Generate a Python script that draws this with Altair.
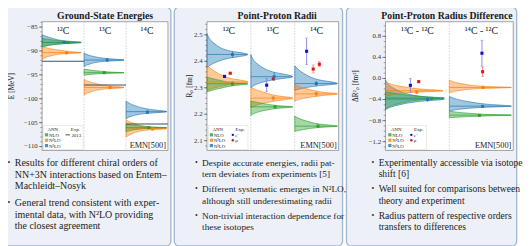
import altair as alt
import pandas as pd

SERIF = "Liberation Serif"
ORDER_NAMES = ["NLO", "N²LO", "N³LO"]
ORDER_COLORS = ["#2ca02c", "#ff7f0e", "#1f77b4"]
DRAW_ORDER = ["N³LO", "N²LO", "NLO"]
EXPLINE = "#3d4f66"
E_COL, E_ERR = "#1010d0", "#8080e6"
MU_COL, MU_ERR = "#e01515", "#f07a7a"
BOXFILL, BOXSTROKE = "#edf1f7", "#a3b8d3"

# ---------------- Ground-State Energies  E [MeV] ----------------
E_LABELS = ["¹²C", "¹³C", "¹⁴C"]
E_TICKS = [-110, -105, -100, -95, -90, -85]
E_MINOR = [-110, -109, -108, -107, -106, -105, -104, -103, -102, -101, -100, -99, -98,
           -97, -96, -95, -94, -93, -92, -91, -90, -89, -88, -87, -86, -85, -84]
E_EXP_2013 = [-92.16, -97.11, -105.28]
E_NLO = [([-87.4, -87.8, -88.1, -88.25, -88.45, -89.1], [0, 0.35, 0.7, 0.93, 0.55, 0]),
         ([-93.8, -94.2, -94.45, -94.55, -94.7, -95.1], [0, 0.35, 0.7, 0.95, 0.5, 0]),
         ([-105.3, -105.7, -105.95, -106.05, -106.2, -106.9], [0, 0.35, 0.7, 0.97, 0.5, 0])]
E_N2LO = [([-89.1, -89.7, -90.1, -90.35, -90.6, -91.1, -91.8], [0, 0.3, 0.65, 0.93, 0.5, 0.18, 0]),
          ([-95.9, -96.7, -97.3, -97.65, -98.0, -98.6, -99.2], [0, 0.22, 0.58, 0.95, 0.45, 0.15, 0]),
          ([-104.4, -105.2, -105.9, -106.25, -106.6, -107.3, -108.0], [0, 0.2, 0.55, 0.97, 0.45, 0.15, 0])]
E_N3LO = [([-86.6, -87.3, -87.9, -88.2, -88.5, -89.2], [0, 0.22, 0.55, 0.93, 0.45, 0]),
          ([-90.4, -91.1, -91.6, -91.9, -92.2, -92.7, -93.3], [0, 0.2, 0.55, 0.95, 0.45, 0.15, 0]),
          ([-100.5, -101.4, -102.2, -102.7, -103.1, -103.6, -104.2], [0, 0.2, 0.55, 0.97, 0.45, 0.15, 0])]
# ANN mean markers: (position inside sub-panel, mean, uncertainty)
E_ANN_NLO = [(0.62, -88.25, 0.2), (0.48, -94.55, 0.2), (0.54, -106.05, 0.2)]
E_ANN_N2LO = [(0.58, -90.4, 0.3), (0.62, -97.65, 0.3), (0.63, -106.3, 0.35)]
E_ANN_N3LO = [(0.53, -88.2, 0.25), (0.55, -91.9, 0.3), (0.51, -102.8, 0.35)]

# ---------------- Point-Proton Radii  R_p [fm] ----------------
R_LABELS = ["¹²C", "¹³C", "¹⁴C"]
R_TICKS = [2.1, 2.2, 2.3, 2.4, 2.5]
R_MINOR = [2.06, 2.08, 2.1, 2.12, 2.14, 2.16, 2.18, 2.2, 2.22, 2.24, 2.26, 2.28, 2.3,
           2.32, 2.34, 2.36, 2.38, 2.4, 2.42, 2.44, 2.46, 2.48, 2.5, 2.52, 2.54]
R_NLO = [([2.34, 2.328, 2.318, 2.315, 2.308, 2.296, 2.285], [0, 0.3, 0.65, 0.93, 0.6, 0.25, 0]),
         ([2.25, 2.24, 2.232, 2.228, 2.222, 2.21, 2.195], [0, 0.3, 0.65, 0.95, 0.6, 0.2, 0]),
         ([2.193, 2.175, 2.162, 2.155, 2.15, 2.142, 2.135], [0, 0.25, 0.6, 0.97, 0.55, 0.2, 0])]
R_N2LO = [([2.385, 2.36, 2.335, 2.322, 2.31, 2.29], [0, 0.2, 0.55, 0.93, 0.45, 0]),
          ([2.302, 2.285, 2.27, 2.261, 2.25, 2.238, 2.225], [0, 0.25, 0.6, 0.95, 0.55, 0.2, 0]),
          ([2.312, 2.295, 2.283, 2.277, 2.27, 2.26, 2.25], [0, 0.3, 0.65, 0.97, 0.6, 0.2, 0])]
R_N3LO = [([2.505, 2.47, 2.44, 2.426, 2.41, 2.39, 2.375], [0, 0.15, 0.5, 0.93, 0.45, 0.12, 0]),
          ([2.426, 2.39, 2.36, 2.342, 2.33, 2.315, 2.30], [0, 0.15, 0.5, 0.95, 0.5, 0.15, 0]),
          ([2.383, 2.355, 2.33, 2.316, 2.306, 2.29], [0, 0.2, 0.55, 0.97, 0.45, 0])]
R_ANN_NLO = [(0.58, 2.314, 0.005), (0.55, 2.228, 0.006), (0.53, 2.155, 0.006)]
R_ANN_N2LO = [(0.58, 2.319, 0.006), (0.51, 2.261, 0.008), (0.49, 2.277, 0.008)]
R_ANN_N3LO = [(0.58, 2.426, 0.012), (0.53, 2.342, 0.017), (0.49, 2.316, 0.01)]
# experiment: (sub-panel, position, value, uncertainty)
R_EXP_E = [(0, 0.40, 2.343, 0.004), (1, 0.36, 2.31, 0.025), (2, 0.27, 2.438, 0.05)]
R_EXP_MU = [(0, 0.53, 2.355, 0.003), (1, 0.51, 2.334, 0.004), (2, 0.42, 2.371, 0.015),
            (2, 0.56, 2.389, 0.01)]

# ---------------- Point-Proton Radius Difference  ΔR_p^2 [fm^2] ----------------
D_LABELS = ["¹³C - ¹²C", "¹⁴C - ¹²C"]
D_TICKS = [-1.2, -0.8, -0.4, 0.0, 0.4, 0.8]
D_MINOR = [-1.3, -1.2, -1.1, -1.0, -0.9, -0.8, -0.7, -0.6, -0.5, -0.4, -0.3, -0.2, -0.1,
           0.0, 0.1, 0.2, 0.3, 0.4, 0.5, 0.6, 0.7, 0.8, 0.9, 1.0]
D_NLO = [([-0.25, -0.31, -0.35, -0.37, -0.4, -0.48, -0.58], [0, 0.3, 0.65, 0.92, 0.6, 0.2, 0]),
         ([-0.62, -0.66, -0.685, -0.696, -0.71, -0.73, -0.745], [0, 0.3, 0.65, 0.97, 0.6, 0.2, 0])]
D_N2LO = [([-0.06, -0.14, -0.2, -0.233, -0.26, -0.3, -0.345], [0, 0.2, 0.55, 0.9, 0.5, 0.15, 0]),
          ([-0.03, -0.1, -0.15, -0.171, -0.19, -0.23, -0.28], [0, 0.2, 0.55, 0.97, 0.5, 0.15, 0])]
D_N3LO = [([-0.03, -0.2, -0.33, -0.39, -0.44, -0.52, -0.59], [0, 0.15, 0.5, 0.92, 0.5, 0.15, 0]),
          ([-0.34, -0.43, -0.49, -0.526, -0.55, -0.585, -0.62], [0, 0.25, 0.6, 0.97, 0.5, 0.15, 0])]
D_ANN_NLO = [(0.72, -0.38, 0.03), (0.47, -0.70, 0.02)]
D_ANN_N2LO = [(0.49, -0.26, 0.03), (0.53, -0.17, 0.03)]
D_ANN_N3LO = [(0.66, -0.40, 0.04), (0.52, -0.53, 0.03)]
D_EXP_E = [(0, 0.39, -0.13, 0.13), (1, 0.51, 0.48, 0.245)]
D_EXP_MU = [(0, 0.52, -0.06, 0.015), (1, 0.52, 0.128, 0.09)]

# ---------------- bullet texts ----------------
BUL1 = [["Results for different chiral orders of", "NN+3N interactions based on Entem–", "Machleidt–Nosyk"],
        ["General trend consistent with exper-", "imental data, with N²LO providing", "the closest agreement"]]
BUL2 = [["Despite accurate energies, radii pat-", "tern deviates from experiments [5]"],
        ["Different systematic emerges in N²LO,", "although still underestimating radii"],
        ["Non-trivial interaction dependence for", "these isotopes"]]
BUL3 = [["Experimentally accessible via isotope", "shift [6]"],
        ["Well suited for comparisons between", "theory and experiment"],
        ["Radius pattern of respective orders", "transfers to differences"]]

Y0, Y1 = 19, 151
D1 = pd.DataFrame({"a": [0]})


def dist_df(dists):
    rows = []
    for order in DRAW_ORDER:
        for s, (vals, dens) in enumerate(dists[order]):
            for k, (v, d) in enumerate(zip(vals, dens)):
                rows.append({"order": order, "g": f"{order}{s}", "k": k, "v": v, "x": s + d, "x0": s})
    return pd.DataFrame(rows)


def peak_df(dists):
    rows = []
    for order in DRAW_ORDER:
        for s, (vals, dens) in enumerate(dists[order]):
            i = dens.index(max(dens))
            rows.append({"order": order, "v": vals[i], "x0": s, "xt": s + dens[i]})
    return pd.DataFrame(rows)


def ann_df(ann):
    rows = []
    for order in DRAW_ORDER:
        for s, (p, m, e) in enumerate(ann[order]):
            rows.append({"order": order, "x": s + p, "v": m, "lo": m - e, "hi": m + e})
    return pd.DataFrame(rows)


def exp_df(pts):
    return pd.DataFrame([{"x": s + p, "v": m, "lo": m - e, "hi": m + e} for s, p, m, e in pts])


def panel(c):
    ox, oy = c["x0"], Y0
    W = c["x1"] - c["x0"]
    H = Y1 - Y0
    n = c["n"]
    xs = alt.Scale(domain=[0, n], nice=False, zero=False)
    ys = alt.Scale(domain=c["ydom"], nice=False, zero=False)
    cs = alt.Scale(domain=ORDER_NAMES, range=ORDER_COLORS)
    C = alt.Color("order:N", scale=cs, legend=None)

    def X(f):
        return alt.X(f"{f}:Q", scale=xs, axis=None)

    def Y(f="v"):
        return alt.Y(f"{f}:Q", scale=ys, axis=None)

    def px(r):
        return r - ox

    def py(r):
        return r - oy

    def rect(x0, x1, y0, y1, **kw):
        return alt.Chart(D1).mark_rect(**kw).encode(
            x=alt.value(px(x0)), x2=alt.value(px(x1)), y=alt.value(py(y0)), y2=alt.value(py(y1)))

    def text(s, rx, ry, size, **kw):
        kw.setdefault("font", SERIF)
        kw.setdefault("color", "#1a1a1a")
        kw.setdefault("baseline", "middle")
        return alt.Chart(D1).mark_text(text=s, fontSize=size, **kw).encode(
            x=alt.value(px(rx)), y=alt.value(py(ry)))

    L = []
    if c.get("topbar"):
        L.append(rect(0, 531, 0, 3, fill="#3d6498"))
    L.append(rect(c["bx0"], c["bx1"], 4, 249, fill=BOXFILL, stroke=BOXSTROKE, strokeWidth=1.4, cornerRadius=5))
    L.append(rect(c["x0"], c["x1"], Y0, Y1, fill="white", stroke="#8c8c8c", strokeWidth=0.8))
    sep = pd.DataFrame({"s": list(range(1, n))})
    L.append(alt.Chart(sep).mark_rule(color="#bdbdbd", strokeWidth=0.7, strokeDash=[1.5, 1.5]).encode(x=X("s")))

    dd = dist_df(c["dist"])
    for order in DRAW_ORDER:
        sub = dd[dd.order == order]
        L.append(alt.Chart(sub).mark_area(orient="horizontal", interpolate="monotone", fillOpacity=0.42,
                                          strokeWidth=0.7, strokeOpacity=0.9).encode(
            y=Y(), x=X("x"), x2=alt.X2("x0"),
            fill=alt.Fill("order:N", scale=cs, legend=None),
            stroke=alt.Stroke("order:N", scale=cs, legend=None),
            detail="g:N"))
    L.append(alt.Chart(peak_df(c["dist"])).mark_rule(strokeWidth=0.7).encode(
        y=Y(), x=X("x0"), x2=alt.X2("xt"), color=C))

    if "exp_lines" in c:
        el = pd.DataFrame({"v": c["exp_lines"], "x0": list(range(n)), "x1": [i + 1 for i in range(n)]})
        L.append(alt.Chart(el).mark_rule(color=EXPLINE, strokeWidth=1.1).encode(y=Y(), x=X("x0"), x2=alt.X2("x1")))
    for pts, pc, ec in [(c.get("exp_e"), E_COL, E_ERR), (c.get("exp_mu"), MU_COL, MU_ERR)]:
        if pts:
            base = alt.Chart(exp_df(pts))
            L.append(base.mark_rule(color=ec, strokeWidth=0.9).encode(x=X("x"), y=Y("lo"), y2=alt.Y2("hi")))
            L.append(base.mark_tick(color=ec, orient="horizontal", size=3, thickness=0.8).encode(x=X("x"), y=Y("lo")))
            L.append(base.mark_tick(color=ec, orient="horizontal", size=3, thickness=0.8).encode(x=X("x"), y=Y("hi")))
            L.append(base.mark_square(color=pc, size=10, opacity=1).encode(x=X("x"), y=Y("v")))

    an = alt.Chart(ann_df(c["ann"]))
    L.append(an.mark_rule(strokeWidth=0.8).encode(x=X("x"), y=Y("lo"), y2=alt.Y2("hi"), color=C))
    L.append(an.mark_square(size=9, opacity=1).encode(x=X("x"), y=Y(), color=C))

    # y ticks and tick labels, positioned through the y scale
    tk = pd.DataFrame({"t": c["ticks"]})
    L.append(alt.Chart(tk).mark_rule(color="#444444", strokeWidth=0.6).encode(
        y=Y("t"), x=alt.value(-3.2), x2=alt.value(0)))
    L.append(alt.Chart(tk).mark_text(font=SERIF, fontSize=7, color="#333333", align="right",
                                     baseline="middle").encode(
        y=Y("t"), x=alt.value(-4.5), text=alt.Text("t:Q", format=c["fmt"])))
    mn = pd.DataFrame({"m": c["minor"]})
    mn = mn[(mn.m >= min(c["ydom"])) & (mn.m <= max(c["ydom"]))]
    L.append(alt.Chart(mn).mark_rule(color="#444444", strokeWidth=0.5).encode(
        y=Y("m"), x=alt.value(-1.8), x2=alt.value(0)))

    labs = pd.DataFrame({"x": [i + 0.5 for i in range(n)], "lab": c["labels"]})
    L.append(alt.Chart(labs).mark_text(font=SERIF, fontSize=10, color="#1a1a1a", baseline="middle").encode(
        x=X("x"), y=alt.value(py(29)), text="lab:N"))
    L.append(text("EMN[500]", c["x1"] - 2, 145.5, 8.5, align="right"))

    # legend
    lx = c["x0"]
    L.append(rect(lx + 1.5, lx + 42, 125.5, 150, fill="white", stroke="#dddddd", strokeWidth=0.6))
    L.append(text("ANN", lx + 11, 129.5, 5))
    L.append(text("Exp.", lx + 34, 129.5, 5))
    for i, (nm, col) in enumerate(zip(ORDER_NAMES, ORDER_COLORS)):
        ry = 135 + 5.5 * i
        L.append(alt.Chart(D1).mark_square(size=11, color=col, opacity=0.8).encode(
            x=alt.value(px(lx + 4.5)), y=alt.value(py(ry))))
        L.append(text(nm, lx + 7, ry, 5, align="left"))
    if "exp_lines" in c:
        L.append(alt.Chart(D1).mark_rule(color=EXPLINE, strokeWidth=1).encode(
            x=alt.value(px(lx + 24)), x2=alt.value(px(lx + 28.5)), y=alt.value(py(135))))
        L.append(text("2013", lx + 30, 135, 5, align="left"))
    else:
        for i, (nm, col) in enumerate([("e⁻", E_COL), ("μ", MU_COL)]):
            ry = 135 + 5.5 * i
            L.append(alt.Chart(D1).mark_circle(size=6, color=col, opacity=1).encode(
                x=alt.value(px(lx + 26.5)), y=alt.value(py(ry))))
            L.append(text(nm, lx + 29, ry, 5, align="left"))

    # titles
    L.append(text(c["title"], c["tx"], 13, 10, fontWeight="bold", align="center"))
    L.append(text(c["ytitle"], c["ytx"], 85, 7.5, angle=270, align="center"))

    # bullets
    ry = 164
    for bi, lines in enumerate(c["bullets"]):
        for li, line in enumerate(lines):
            if li == 0:
                L.append(text("•", c["bul_x"], ry, 8, align="center", color="#333333"))
            L.append(text(line, c["bul_x"] + 6, ry, c["bfs"], align="left", color="#222222"))
            ry += c["step"]
        ry += c["gap"]

    return alt.layer(*L).properties(width=W, height=H)


p1 = panel(dict(x0=43, x1=172, n=3, ydom=[-110.82, -83.88], ticks=E_TICKS, fmt=".0f", minor=E_MINOR,
                dist={"NLO": E_NLO, "N²LO": E_N2LO, "N³LO": E_N3LO},
                ann={"NLO": E_ANN_NLO, "N²LO": E_ANN_N2LO, "N³LO": E_ANN_N3LO},
                exp_lines=E_EXP_2013, labels=E_LABELS, title="Ground-State Energies", tx=107.5,
                ytitle="E [MeV]", ytx=12, bx0=1.5, bx1=175, topbar=True,
                bullets=BUL1, bul_x=9, step=12, gap=5, bfs=10.2))
p2 = panel(dict(x0=212, x1=347, n=3, ydom=[2.0631, 2.5498], ticks=R_TICKS, fmt=".1f", minor=R_MINOR,
                dist={"NLO": R_NLO, "N²LO": R_N2LO, "N³LO": R_N3LO},
                ann={"NLO": R_ANN_NLO, "N²LO": R_ANN_N2LO, "N³LO": R_ANN_N3LO},
                exp_e=R_EXP_E, exp_mu=R_EXP_MU, labels=R_LABELS, title="Point-Proton Radii", tx=284,
                ytitle="Rₚ [fm]", ytx=195, bx0=178.5, bx1=351,
                bullets=BUL2, bul_x=201, step=11.5, gap=4, bfs=9.5))
p3 = panel(dict(x0=395, x1=526, n=2, ydom=[-1.3667, 1.0778], ticks=D_TICKS, fmt=".1f", minor=D_MINOR,
                dist={"NLO": D_NLO, "N²LO": D_N2LO, "N³LO": D_N3LO},
                ann={"NLO": D_ANN_NLO, "N²LO": D_ANN_N2LO, "N³LO": D_ANN_N3LO},
                exp_e=D_EXP_E, exp_mu=D_EXP_MU, labels=D_LABELS, title="Point-Proton Radius Difference",
                tx=458, ytitle="ΔR²ₚ [fm²]", ytx=365, bx0=355, bx1=529.5,
                bullets=BUL3, bul_x=382, step=11.5, gap=4, bfs=9.8))

inner = alt.hconcat(p2, p3, spacing=48, bounds="flush")
chart = alt.hconcat(p1, inner, spacing=40, bounds="flush").properties(
    padding={"left": -8, "top": -8, "right": 0, "bottom": 0}
).configure_view(stroke=None)

chart.save("out.html", embed_options={"renderer": "svg", "actions": False})
